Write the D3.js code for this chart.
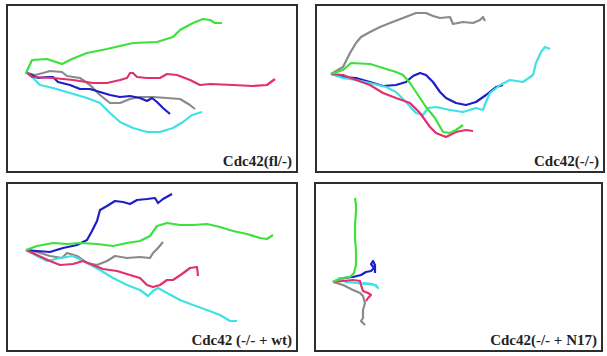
<!DOCTYPE html>
<html>
<head>
<meta charset="utf-8">
<script src="https://cdn.jsdelivr.net/npm/d3@7"></script>
<style>
  body { margin: 0; background: #fff; }
  svg { display: block; }
</style>
</head>
<body>
<svg id="chart" width="607" height="356"></svg>
<script>
// track positions relative to start point (µm-ish, y up)
const trackColors = ["#8a8a8a", "#1e1ec8", "#3ee2e6", "#e2306e", "#3ee03e"];
const trackNames = ["gray", "blue", "cyan", "pink", "green"];
const panelLabels = ["Cdc42(fl/-)", "Cdc42(-/-)", "Cdc42 (-/- + wt)", "Cdc42(-/- + N17)"];

const flGray = [[0,0],[8,-2],[16,0],[23,2],[35,1],[40,-3],[53,-5],[63,-12],[73,-22],[83,-30],[93,-30],[103,-26],[113,-24],[126,-24],[140,-25],[153,-26],[163,-32],[168,-36]];
const flBlue = [[0,0],[11,-5],[20,-4],[26,-4],[31,-9],[43,-12],[53,-16],[63,-16],[73,-19],[83,-22],[93,-24],[103,-23],[113,-25],[120,-28],[125,-25],[130,-29],[136,-35],[143,-41]];
const flCyan = [[0,0],[5,-4],[13,-12],[26,-15],[43,-20],[60,-25],[73,-30],[83,-40],[93,-49],[106,-55],[120,-59],[133,-59],[146,-55],[156,-49],[165,-42],[175,-39]];
const flPink = [[0,0],[5,-4],[26,-5],[46,-7],[66,-10],[80,-10],[93,-7],[100,-5],[103,0],[106,0],[110,-4],[120,-5],[133,-5],[140,-1],[150,-2],[163,-7],[173,-12],[183,-11],[206,-12],[226,-13],[240,-12],[248,-6]];
const flGreen = [[0,0],[-1,0],[5,13],[20,14],[35,9],[45,14],[60,20],[80,24],[106,30],[130,31],[146,36],[153,43],[166,50],[176,54],[183,53],[188,50],[195,50]];

const koGray = [[0,0],[12,7],[19,21],[25,31],[30,37],[39,42],[49,47],[59,51],[72,56],[85,61],[95,61],[102,58],[109,56],[119,57],[122,50],[132,52],[142,51],[149,54],[152,57],[154,53]];
const koBlue = [[0,0],[12,-3],[25,-4],[39,-8],[52,-12],[65,-11],[75,-8],[82,-2],[89,1],[95,-1],[102,-8],[109,-18],[115,-24],[125,-29],[135,-31],[145,-28],[155,-21],[165,-13],[172,-11]];
const koCyan = [[0,0],[12,-4],[25,-6],[39,-9],[55,-13],[65,-18],[75,-28],[85,-39],[92,-41],[97,-34],[105,-33],[119,-36],[132,-38],[145,-34],[152,-36],[155,-28],[159,-19],[169,-11],[179,-6],[192,-8],[202,-1],[205,11],[210,22],[214,27],[219,25]];
const koPink = [[0,0],[12,-1],[25,-6],[39,-11],[52,-19],[65,-24],[79,-29],[89,-39],[99,-53],[105,-59],[115,-63],[125,-58],[135,-56],[142,-57]];
const koGreen = [[0,0],[12,4],[20,11],[39,10],[52,6],[65,2],[72,-1],[79,-9],[87,-21],[95,-33],[104,-44],[112,-58],[119,-59],[125,-56],[132,-51]];

const wtGray = [[0,0],[11,-2],[24,-6],[36,-8],[41,-3],[51,-6],[61,-13],[71,-15],[81,-11],[89,-6],[101,-8],[114,-7],[124,-8],[127,-3],[132,2],[137,8]];
const wtBlue = [[0,0],[11,-1],[24,-2],[37,2],[51,5],[61,10],[66,19],[71,29],[74,40],[81,44],[89,49],[97,48],[104,46],[111,50],[121,51],[129,52],[132,47],[137,51],[146,56]];
const wtCyan = [[0,0],[11,-6],[21,-11],[34,-8],[47,-6],[61,-13],[74,-20],[87,-28],[101,-35],[114,-40],[122,-46],[127,-41],[132,-38],[141,-43],[154,-50],[167,-55],[181,-60],[194,-65],[204,-71],[211,-71]];
const wtPink = [[0,0],[11,-5],[24,-11],[34,-15],[47,-14],[57,-11],[67,-15],[77,-19],[91,-21],[104,-25],[114,-28],[121,-35],[127,-37],[134,-35],[141,-30],[147,-30],[156,-24],[164,-18],[171,-17],[172,-26]];
const wtGreen = [[0,0],[11,4],[27,7],[41,6],[54,7],[71,6],[87,4],[101,7],[114,9],[124,14],[131,24],[141,27],[154,25],[167,25],[181,26],[194,23],[207,19],[221,16],[234,12],[241,11],[247,15]];

const n17Gray = [[0,0],[10,-3],[20,-8],[27,-11],[30,-14],[32,-21],[30,-28],[30,-36],[28,-39],[32,-43]];
const n17Blue = [[0,0],[10,4],[20,5],[28,7],[33,10],[38,11],[41,14],[38,18],[40,21],[42,17],[42,9]];
const n17Cyan = [[0,0],[7,4],[13,0],[23,-1],[33,-2],[43,-3],[45,-6],[40,-2],[30,-1]];
const n17Pink = [[0,0],[10,1],[20,2],[27,1],[28,-3],[30,-9],[35,-11],[38,-13],[35,-16],[33,-19]];
const n17Green = [[0,0],[10,4],[17,5],[21,9],[23,17],[23,31],[22,44],[22,57],[23,71],[23,77],[22,84]];

const panelTracks = [
  [flGray, flBlue, flCyan, flPink, flGreen],
  [koGray, koBlue, koCyan, koPink, koGreen],
  [wtGray, wtBlue, wtCyan, wtPink, wtGreen],
  [n17Gray, n17Blue, n17Cyan, n17Pink, n17Green]
];

// panel frames and where the start point sits inside each
const panels = [
  {x: 7, y: 5, w: 290, h: 167, ox: 20, oy: 68},
  {x: 316, y: 5, w: 288, h: 167, ox: 15, oy: 69},
  {x: 7, y: 183, w: 290, h: 168, ox: 19, oy: 67},
  {x: 315, y: 183, w: 287, h: 168, ox: 18, oy: 99}
];

const svg = d3.select("#chart");

panels.forEach((p, i) => {
  const g = svg.append("g").attr("transform", "translate(" + p.x + "," + p.y + ")");

  const x = d3.scaleLinear().domain([-p.ox, p.w - p.ox]).range([0, p.w]);
  const y = d3.scaleLinear().domain([p.oy - p.h, p.oy]).range([p.h, 0]);

  const line = d3.line()
    .x(d => x(d[0]))
    .y(d => y(d[1]));

  g.append("rect")
    .attr("width", p.w)
    .attr("height", p.h)
    .attr("fill", "#fff")
    .attr("stroke", "#2e2e2e")
    .attr("stroke-width", 2);

  g.selectAll("path.track")
    .data(panelTracks[i])
    .enter()
    .append("path")
    .attr("class", (d, j) => "track " + trackNames[j])
    .attr("d", line)
    .attr("fill", "none")
    .attr("stroke", (d, j) => trackColors[j])
    .attr("stroke-width", 2.2)
    .attr("stroke-linejoin", "round");

  g.append("text")
    .attr("x", p.w - 5)
    .attr("y", p.h - 6)
    .attr("text-anchor", "end")
    .style("font-family", "'Liberation Serif', 'Times New Roman', serif")
    .style("font-weight", "bold")
    .style("font-size", "15px")
    .attr("fill", "#222")
    .text(panelLabels[i]);
});
</script>
</body>
</html>
